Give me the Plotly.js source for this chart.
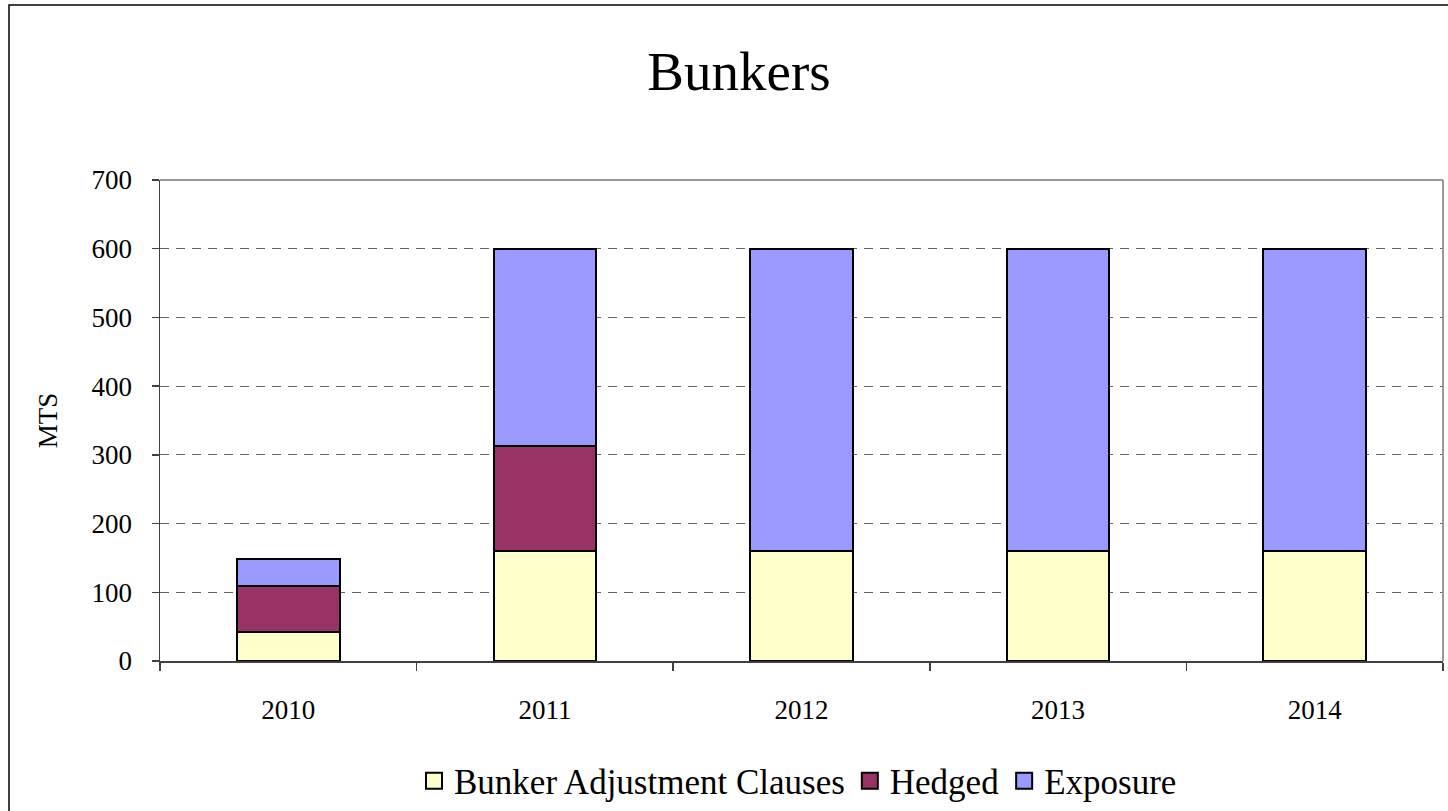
<!DOCTYPE html>
<html>
<head>
<meta charset="utf-8">
<script src="https://cdn.plot.ly/plotly-3.0.1.min.js"></script>
<style>html,body{margin:0;padding:0;background:#fff;}#chart{width:1448px;height:811px;}</style>
</head>
<body>
<div id="chart"></div>
<script>
var years = ["2010", "2011", "2012", "2013", "2014"];
var bunkerAdjustment = [42, 160, 160, 160, 160];
var hedged = [67, 153, 0, 0, 0];
var exposure = [39, 287, 440, 440, 440];
var seriesNames = ["Bunker Adjustment Clauses", "Hedged", "Exposure"];
var seriesColors = ["#FFFFCC", "#993366", "#9999FF"];
var yTicks = [0, 100, 200, 300, 400, 500, 600, 700];

var font = "Liberation Serif, Times New Roman, serif";
var series = [bunkerAdjustment, hedged, exposure];
var traces = series.map(function (vals, i) {
  return {
    type: "bar",
    name: seriesNames[i],
    x: years,
    y: vals,
    width: 0.4,
    showlegend: false,
    marker: {color: seriesColors[i], line: {color: "#000", width: 2}},
    hoverinfo: "x+y+name"
  };
});
// legend entries (larger square swatches like the reference)
seriesNames.forEach(function (n, i) {
  traces.push({
    type: "scatter", mode: "markers", name: n,
    x: [years[0]], y: [null],
    marker: {symbol: "square", size: 16, color: seriesColors[i], line: {color: "#000", width: 2}},
    showlegend: true, hoverinfo: "skip"
  });
});

var L = 160, R = 1443, T = 180, B = 661;
var pw = R - L, ph = B - T;
function px(x) { return (x - L) / pw; }
function py(y) { return (B - y) / ph; }

var layout = {
  width: 1448, height: 811,
  margin: {l: L, r: 1448 - R, t: T, b: 811 - B, pad: 0},
  paper_bgcolor: "#fff", plot_bgcolor: "#fff",
  barmode: "stack",
  showlegend: true,
  font: {family: font, color: "#000"},
  title: {text: "Bunkers", font: {family: font, size: 55, color: "#000"},
    xref: "container", x: 739 / 1448, xanchor: "center",
    yref: "container", y: 1 - 71 / 811, yanchor: "middle"},
  xaxis: {
    type: "category", range: [-0.5, 4.5],
    showline: true, linecolor: "#404040", linewidth: 1.5,
    ticks: "outside", tickson: "boundaries", ticklen: 8, tickcolor: "#404040", tickwidth: 1.5,
    ticklabelstandoff: 24,
    tickfont: {family: font, size: 27, color: "#000"},
    showgrid: false, zeroline: false
  },
  yaxis: {
    range: [0, 700], tickvals: yTicks, ticktext: yTicks.map(String),
    showline: true, linecolor: "#404040", linewidth: 1.5,
    ticks: "outside", ticklen: 7, tickcolor: "#404040", tickwidth: 1.5,
    ticklabelstandoff: 14,
    tickfont: {family: font, size: 27, color: "#000"},
    showgrid: true, gridcolor: "#666", gridwidth: 1, griddash: "9px,7px",
    zeroline: false,
    title: {text: "MTS", font: {family: font, size: 27, color: "#000"}, standoff: 26}
  },
  legend: {
    orientation: "h", xref: "container", x: 798 / 1448, xanchor: "center",
    yref: "container", y: 1 - 781 / 811, yanchor: "middle",
    font: {family: font, size: 35, color: "#000"},
    itemwidth: 30, tracegroupgap: 0, traceorder: "normal"
  },
  shapes: [
    {type: "line", xref: "paper", yref: "paper", x0: 0, x1: 1, y0: 1, y1: 1, line: {color: "#999", width: 2}},
    {type: "line", xref: "paper", yref: "paper", x0: 1, x1: 1, y0: 0, y1: 1, line: {color: "#999", width: 2}},
    {type: "rect", xref: "paper", yref: "paper", x0: px(9), x1: px(1470), y0: py(830), y1: py(5), line: {color: "#000", width: 1.5}}
  ]
};

Plotly.newPlot("chart", traces, layout, {displayModeBar: false, staticPlot: true});
</script>
</body>
</html>
